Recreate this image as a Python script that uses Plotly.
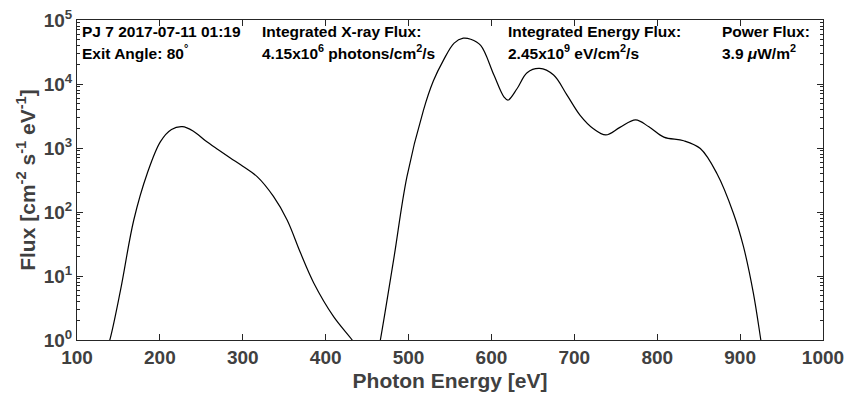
import plotly.graph_objects as go

# Segment 1 (low-energy bump)
energy_low = [132, 139.6, 152.5, 168.5, 184.7, 200.7, 214, 227, 240, 255, 270, 285, 300, 317, 337, 353.5, 369.6, 385.6, 409.8, 432, 440]
flux_low = [0.5, 1.0, 6.0, 75, 400, 1260, 1950, 2150, 1850, 1300, 950, 700, 520, 360, 175, 75, 23, 7.8, 2.3, 1.0, 0.7]

# Segment 2 (high-energy lines)
energy_high = [460, 466, 482, 498, 518, 530, 542, 555, 566, 575, 587, 603, 615, 620, 631, 643, 658, 675, 691,
               707, 723, 738, 755, 774, 790, 808, 832, 852, 872, 892, 904, 916, 925, 932]
flux_high = [0.4, 1.0, 18, 355, 3900, 11200, 23400, 43600, 52000, 50000, 40000, 13800, 6300, 5600, 8500, 15000,
             17500, 13800, 6760, 3240, 2000, 1600, 2100, 2750, 2140, 1480, 1300, 980, 400, 95, 29, 5.4, 1.0, 0.25]

x_ticks = [100, 200, 300, 400, 500, 600, 700, 800, 900, 1000]
y_ticks = [1, 10, 100, 1000, 10000, 100000]
y_tick_text = ["10<sup>0</sup>", "10<sup>1</sup>", "10<sup>2</sup>", "10<sup>3</sup>", "10<sup>4</sup>", "10<sup>5</sup>"]
minor_mult = [2, 3, 4, 5, 6, 7, 8, 9]

texts = [
    ("PJ 7 2017-07-11 01:19", 80, 31),
    ("Exit Angle: 80<sup>°</sup>", 80, 52),
    ("Integrated X-ray Flux:", 260, 31),
    ("4.15x10<sup>6</sup> photons/cm<sup>2</sup>/s", 260, 52),
    ("Integrated Energy Flux:", 506, 31),
    ("2.45x10<sup>9</sup> eV/cm<sup>2</sup>/s", 506, 52),
    ("Power Flux:", 720, 31),
    ("3.9 <i>μ</i>W/m<sup>2</sup>", 720, 52),
]

W, H = 851, 398
L, R, T, B = 77, 28, 20, 58

minor_vals = [m * t for t in y_ticks[:-1] for m in minor_mult]

fig = go.Figure()
fig.add_trace(go.Scatter(x=energy_low + [None] + energy_high, y=flux_low + [None] + flux_high,
                         mode="lines", line=dict(color="black", width=1.2, shape="spline", smoothing=1.0),
                         connectgaps=False, showlegend=False))

axis_col = "#262626"
FF = "Liberation Sans, Arial, sans-serif"
tick_font = dict(family=FF, size=19, color="#404040", weight="bold")
fig.update_xaxes(range=[100, 1000], tickvals=x_ticks, ticks="inside", ticklen=6, tickcolor=axis_col,
                 showline=True, linecolor=axis_col, linewidth=1, mirror="allticks", showgrid=False, zeroline=False,
                 tickfont=tick_font, automargin=False,
                 title=dict(text="Photon Energy [eV]", standoff=6,
                            font=dict(family=FF, size=21, color="#404040", weight="bold")))
fig.update_yaxes(type="log", range=[0, 5], tickvals=y_ticks, ticktext=y_tick_text, ticks="inside", ticklen=6,
                 tickcolor=axis_col, showline=True, linecolor=axis_col, linewidth=1, mirror="allticks",
                 showgrid=False, zeroline=False, tickfont=tick_font, automargin=False,
                 minor=dict(ticks="inside", ticklen=3, tickcolor=axis_col, showgrid=False,
                            tickmode="array", tickvals=minor_vals),
                 title=dict(text="Flux [cm<sup>-2</sup> s<sup>-1</sup> eV<sup>-1</sup>]", standoff=2,
                            font=dict(family=FF, size=21, color="#404040", weight="bold")))

pw = W - L - R
ph = H - T - B
for txt, px, py in texts:
    fig.add_annotation(text=txt, xref="paper", yref="paper", x=(px - L) / pw, y=1 - (py - T) / ph,
                       xanchor="left", yanchor="middle", showarrow=False,
                       font=dict(family=FF, size=15.5, color="black", weight="bold"))

fig.update_layout(width=W, height=H, margin=dict(l=L, r=R, t=T, b=B), plot_bgcolor="white",
                  paper_bgcolor="white")
fig.write_html("out.html")
